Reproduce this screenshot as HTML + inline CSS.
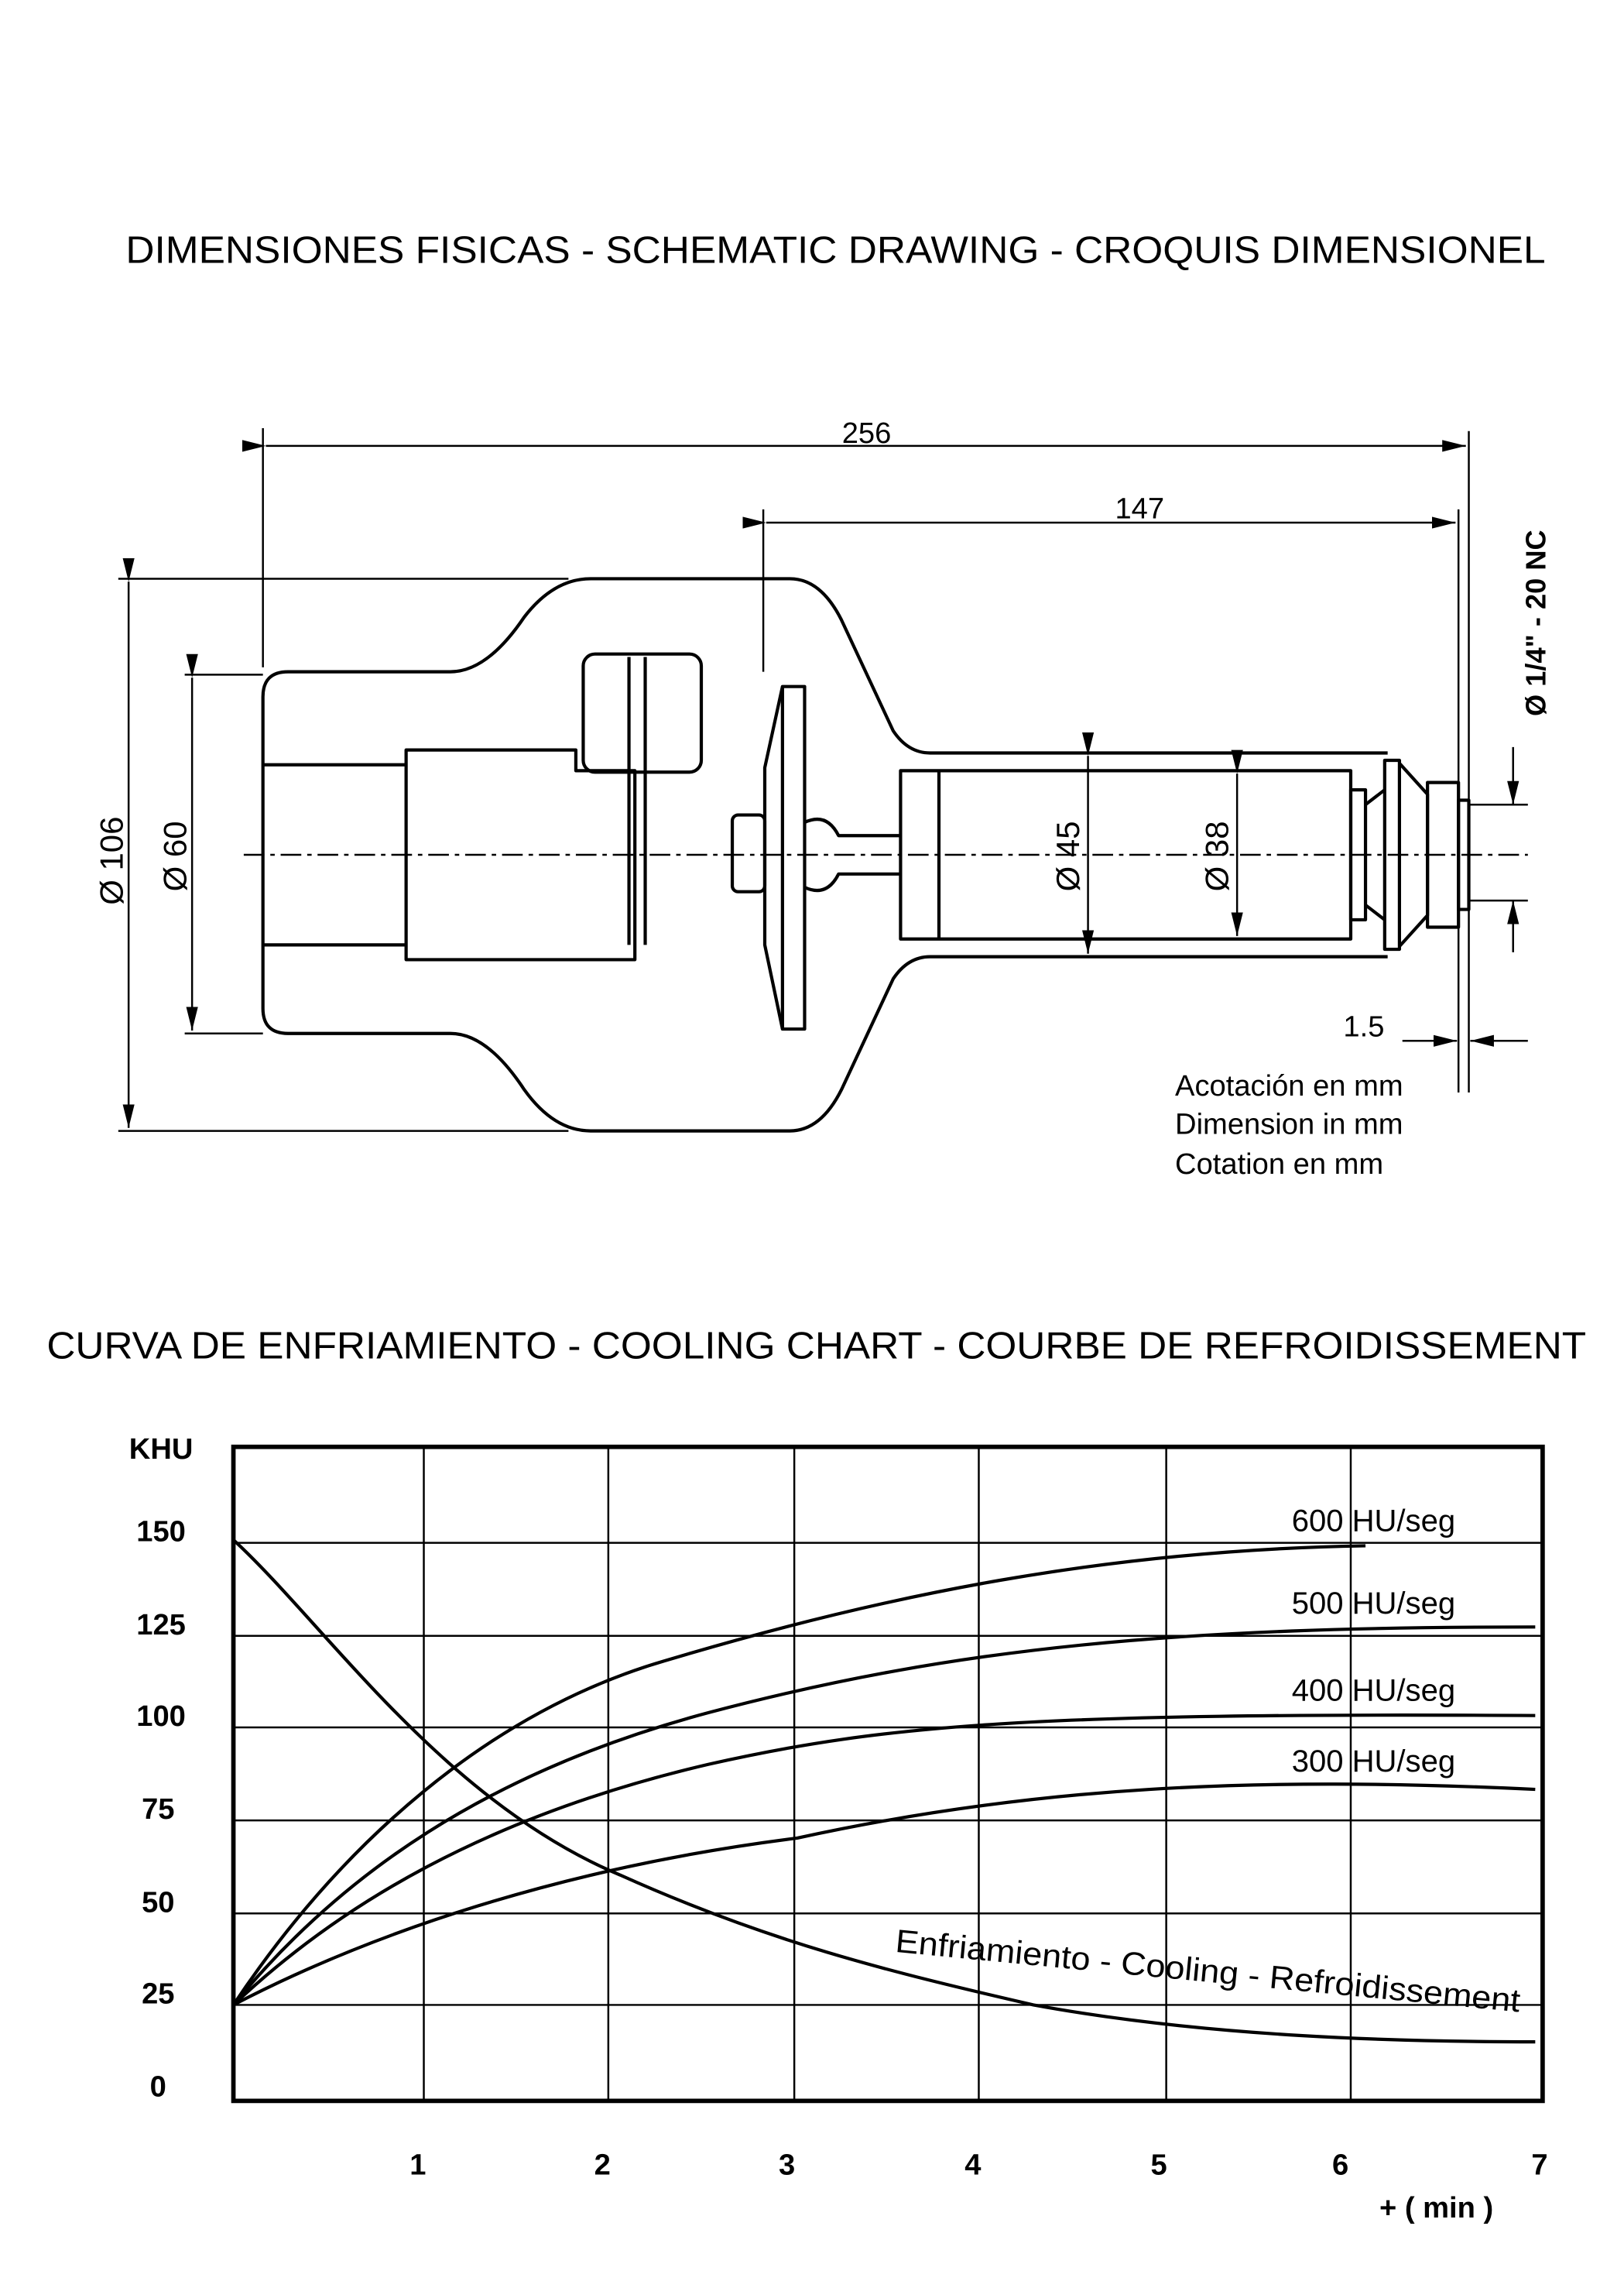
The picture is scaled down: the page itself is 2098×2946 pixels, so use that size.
<!DOCTYPE html>
<html><head><meta charset="utf-8"><style>
html,body{margin:0;padding:0;background:#fff;}
svg{display:block}
text{font-family:"Liberation Sans",Arial,sans-serif;fill:#000}
</style></head><body>
<svg width="2098" height="2946" viewBox="0 0 1100 1545" xmlns="http://www.w3.org/2000/svg">
<defs>
<marker id="a" viewBox="0 0 16 8" refX="16" refY="4" markerWidth="16" markerHeight="8" markerUnits="userSpaceOnUse" orient="auto"><path d="M0,0L16,4L0,8z"/></marker>
</defs>
<text x="566" y="178" font-size="26" text-anchor="middle" textLength="962" lengthAdjust="spacingAndGlyphs">DIMENSIONES FISICAS - SCHEMATIC DRAWING - CROQUIS DIMENSIONEL</text>
<g stroke="#000" fill="none" stroke-width="1.3">
<line x1="178" y1="290" x2="178" y2="452"/>
<line x1="995" y1="292" x2="995" y2="740"/>
<line x1="988" y1="345" x2="988" y2="740"/>
<line x1="180" y1="302" x2="993" y2="302" marker-start="url(#a)" marker-end="url(#a)"/>
<line x1="517" y1="345" x2="517" y2="455"/>
<line x1="519" y1="354" x2="986" y2="354" marker-start="url(#a)" marker-end="url(#a)"/>
<line x1="80" y1="392" x2="385" y2="392"/>
<line x1="80" y1="766" x2="385" y2="766"/>
<line x1="87" y1="394" x2="87" y2="764" marker-start="url(#a)" marker-end="url(#a)"/>
<line x1="125" y1="457" x2="178" y2="457"/>
<line x1="125" y1="700" x2="178" y2="700"/>
<line x1="130" y1="459" x2="130" y2="698" marker-start="url(#a)" marker-end="url(#a)"/>
<line x1="737" y1="512" x2="737" y2="646" marker-start="url(#a)" marker-end="url(#a)"/>
<line x1="838" y1="524" x2="838" y2="634" marker-start="url(#a)" marker-end="url(#a)"/>
<line x1="1025" y1="506" x2="1025" y2="545" marker-end="url(#a)"/>
<line x1="1025" y1="645" x2="1025" y2="610" marker-end="url(#a)"/>
<line x1="995" y1="545" x2="1035" y2="545"/>
<line x1="995" y1="610" x2="1035" y2="610"/>
<line x1="950" y1="705" x2="987" y2="705" marker-end="url(#a)"/>
<line x1="1035" y1="705" x2="996" y2="705" marker-end="url(#a)"/>
<line x1="165" y1="579" x2="1035" y2="579" stroke-dasharray="14,4,3,4"/>
</g>
<g stroke="#000" fill="none" stroke-width="2.2" stroke-linejoin="round">
<path d="M940,510 L630,510 Q615,510 605,495 L570,420 Q556,392 535,392 L400,392 Q375,392 355,418 Q330,455 305,455 L195,455 Q178,455 178,472 L178,683 Q178,700 195,700 L305,700 Q330,700 355,738 Q375,766 400,766 L535,766 Q556,766 570,738 L605,663 Q615,648 630,648 L940,648"/>
<line x1="178" y1="518" x2="275" y2="518"/>
<line x1="178" y1="640" x2="275" y2="640"/>
<path d="M275,508 L390,508 L390,522 L430,522 L430,650 L275,650 Z"/>
<rect x="395" y="443" width="80" height="80" rx="8"/>
<line x1="426" y1="445" x2="426" y2="640"/>
<line x1="437" y1="445" x2="437" y2="640"/>
<path d="M545,465 L530,465 L518,520 L518,640 L530,697 L545,697 Z"/>
<line x1="530" y1="465" x2="530" y2="697"/>
<rect x="496" y="552" width="22" height="52" rx="4"/>
<path d="M545,557 Q560,550 568,566 L610,566 M545,601 Q560,608 568,592 L610,592"/>
<rect x="610" y="522" width="305" height="114"/>
<line x1="636" y1="522" x2="636" y2="636"/>
<rect x="915" y="535" width="10" height="88"/>
<path d="M925,545 L938,535 M925,613 L938,623"/>
<rect x="938" y="515" width="10" height="128"/>
<path d="M948,517 L967,538 L967,620 L948,641"/>
<rect x="967" y="530" width="21" height="98"/>
<rect x="988" y="542" width="7" height="74"/>
</g>
<g font-size="22">
<text transform="translate(83,583) rotate(-90)" text-anchor="middle">Ø 106</text>
<text transform="translate(126,580) rotate(-90)" text-anchor="middle">Ø 60</text>
<text transform="translate(731,580) rotate(-90)" text-anchor="middle">Ø 45</text>
<text transform="translate(832,580) rotate(-90)" text-anchor="middle">Ø 38</text>
<text transform="translate(1047,422) rotate(-90)" text-anchor="middle" font-size="19" font-weight="bold">Ø 1/4" - 20 NC</text>
<text x="587" y="300" text-anchor="middle" font-size="20">256</text>
<text x="772" y="351" text-anchor="middle" font-size="20">147</text>
<text x="910" y="702" font-size="20">1.5</text>
<text x="796" y="742" font-size="20">Acotación en mm</text>
<text x="796" y="768" font-size="20">Dimension in mm</text>
<text x="796" y="795" font-size="20">Cotation en mm</text>
</g>
<text x="553" y="920" font-size="26" text-anchor="middle" textLength="1043" lengthAdjust="spacingAndGlyphs">CURVA DE ENFRIAMIENTO - COOLING CHART - COURBE DE REFROIDISSEMENT</text>
<g stroke="#000" stroke-width="1.3">
<line x1="287" y1="980" x2="287" y2="1423"/><line x1="412" y1="980" x2="412" y2="1423"/>
<line x1="538" y1="980" x2="538" y2="1423"/><line x1="663" y1="980" x2="663" y2="1423"/>
<line x1="790" y1="980" x2="790" y2="1423"/><line x1="915" y1="980" x2="915" y2="1423"/>
<line x1="158" y1="1045" x2="1045" y2="1045"/><line x1="158" y1="1108" x2="1045" y2="1108"/>
<line x1="158" y1="1170" x2="1045" y2="1170"/><line x1="158" y1="1233" x2="1045" y2="1233"/>
<line x1="158" y1="1296" x2="1045" y2="1296"/><line x1="158" y1="1358" x2="1045" y2="1358"/>
</g>
<rect x="158" y="980" width="887" height="443" fill="none" stroke="#000" stroke-width="3"/>
<g stroke="#000" stroke-width="2.2" fill="none">
<path d="M158,1043 C220,1100 300,1220 420,1270 C520,1315 600,1335 700,1358 C820,1380 950,1383 1040,1383"/>
<path d="M158,1358 C230,1250 330,1160 450,1125 C600,1080 750,1050 925,1047"/>
<path d="M158,1358 C230,1270 330,1200 480,1160 C650,1115 800,1102 1040,1102"/>
<path d="M158,1358 C230,1290 330,1230 480,1195 C600,1168 700,1160 1040,1162"/>
<path d="M158,1358 C250,1310 380,1265 540,1245 C700,1210 850,1203 1040,1212"/>
</g>
<g font-size="20" font-weight="bold" text-anchor="middle">
<text x="109" y="988">KHU</text>
<text x="109" y="1044">150</text><text x="109" y="1107">125</text><text x="109" y="1169">100</text>
<text x="107" y="1232">75</text><text x="107" y="1295">50</text><text x="107" y="1357">25</text><text x="107" y="1420">0</text>
<text x="283" y="1473">1</text><text x="408" y="1473">2</text><text x="533" y="1473">3</text><text x="659" y="1473">4</text>
<text x="785" y="1473">5</text><text x="908" y="1473">6</text><text x="1043" y="1473">7</text>
<text x="973" y="1502">+ ( min )</text>
</g>
<g font-size="21">
<text x="875" y="1037">600 HU/seg</text>
<text x="875" y="1093">500 HU/seg</text>
<text x="875" y="1152">400 HU/seg</text>
<text x="875" y="1200">300 HU/seg</text>
<text transform="translate(606,1322) rotate(5.5)" font-size="22" textLength="425" lengthAdjust="spacingAndGlyphs">Enfriamiento - Cooling - Refroidissement</text>
</g>
</svg>
</body></html>
